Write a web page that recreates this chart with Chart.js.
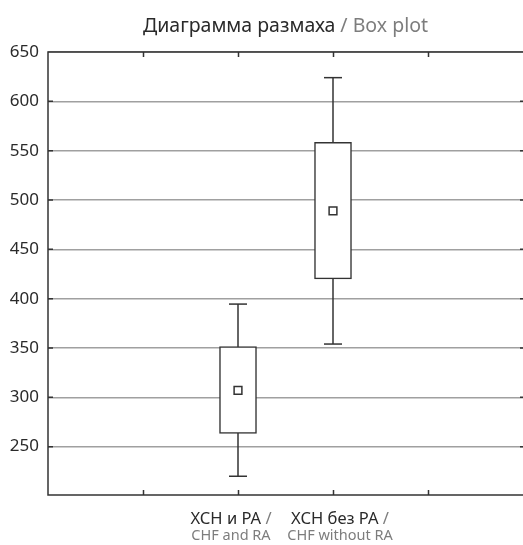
<!DOCTYPE html>
<html>
<head>
  <meta charset="utf-8">
  <title>Box plot</title>
  <script src="https://cdn.jsdelivr.net/npm/chart.js@4"></script>
  <style>
    body { margin: 0; background: #fff; }
  </style>
</head>
<body>
  <canvas id="chart" width="523" height="545"></canvas>

  <script>
    // groups and where they sit on the 0..5 x axis
    const groupsRu = ['ХСН и РА', 'ХСН без РА'];
    const groupsEn = ['CHF and RA', 'CHF without RA'];
    const groupPos = [2, 3];

    // box plot values
    const minVals = [220, 354];
    const q1Vals = [263.5, 420];
    const meanVals = [307, 489];
    const q3Vals = [351.5, 558.5];
    const maxVals = [394.5, 624];

    const yTicks = [250, 300, 350, 400, 450, 500, 550, 600, 650];

    const dark = '#333333';
    const grey = '#7d7d7d';
    const font = '"Noto Sans", sans-serif';

    const whiskers = groupPos.map((x, i) => ({
      type: 'line',
      data: [{ x: x, y: minVals[i] }, { x: x, y: maxVals[i] }],
      borderColor: dark,
      borderWidth: 1.5,
      pointRadius: 0,
      fill: false,
      order: 4
    }));

    const frame = {
      id: 'frame',
      afterDraw(chart) {
        const c = chart.ctx;
        const a = chart.chartArea;
        const xs = chart.scales.x;
        const ys = chart.scales.y;
        c.save();
        c.strokeStyle = dark;
        c.lineWidth = 1.5;
        // frame: left, top, bottom (right side runs off the canvas)
        c.beginPath();
        c.moveTo(a.right + 2, a.top); c.lineTo(a.left, a.top);
        c.lineTo(a.left, a.bottom); c.lineTo(a.right + 2, a.bottom);
        c.stroke();
        // inward ticks
        c.beginPath();
        for (let v = 1; v < 5; v++) {
          const px = Math.round(xs.getPixelForValue(v)) + 0.5;
          c.moveTo(px, a.top); c.lineTo(px, a.top + 5);
          c.moveTo(px, a.bottom); c.lineTo(px, a.bottom - 5);
        }
        yTicks.forEach(v => {
          if (v >= ys.max) return;
          const py = ys.getPixelForValue(v);
          c.moveTo(a.left, py); c.lineTo(a.left + 5, py);
          c.moveTo(a.right, py); c.lineTo(a.right - 3, py);
        });
        c.stroke();

        // title
        c.textBaseline = 'alphabetic';
        c.font = '19.5px ' + font;
        const t1 = 'Диаграмма размаха ';
        const t2 = '/ Box plot';
        const w1 = c.measureText(t1).width;
        const w2 = c.measureText(t2).width;
        let tx = (a.left + a.right) / 2 - (w1 + w2) / 2;
        c.textAlign = 'left';
        c.fillStyle = '#2a2a2a';
        c.fillText(t1, tx, 32);
        c.fillStyle = grey;
        c.fillText(t2, tx + w1, 32);

        // x labels
        const shift = [-7, 7];
        groupPos.forEach((v, i) => {
          const cx = xs.getPixelForValue(v) + shift[i];
          c.font = '16.5px ' + font;
          const s1 = groupsRu[i] + ' ';
          const s2 = '/';
          const a1 = c.measureText(s1).width;
          const a2 = c.measureText(s2).width;
          const lx = cx - (a1 + a2) / 2;
          c.fillStyle = '#2a2a2a';
          c.fillText(s1, lx, 524);
          c.fillStyle = grey;
          c.fillText(s2, lx + a1, 524);
          c.font = '14.5px ' + font;
          c.textAlign = 'center';
          c.fillText(groupsEn[i], cx, 540);
          c.textAlign = 'left';
        });
        c.restore();
      }
    };

    new Chart(document.getElementById('chart'), {
      type: 'bar',
      data: {
        datasets: [
          {
            type: 'bar',
            data: groupPos.map((x, i) => ({ x: x, y: [q1Vals[i], q3Vals[i]] })),
            backgroundColor: '#ffffff',
            borderColor: dark,
            borderWidth: 1.5,
            borderSkipped: false,
            barThickness: 37,
            order: 3
          },
          ...whiskers,
          {
            type: 'line',
            showLine: false,
            data: groupPos.flatMap((x, i) => [{ x: x, y: minVals[i] }, { x: x, y: maxVals[i] }]),
            pointStyle: 'line',
            pointRadius: 9,
            pointBorderColor: dark,
            pointBorderWidth: 1.5,
            order: 2
          },
          {
            type: 'line',
            showLine: false,
            data: groupPos.map((x, i) => ({ x: x, y: meanVals[i] })),
            pointStyle: 'rect',
            pointRadius: 5.5,
            pointBackgroundColor: '#ffffff',
            pointBorderColor: dark,
            pointBorderWidth: 1.5,
            order: 1
          }
        ]
      },
      options: {
        responsive: false,
        animation: false,
        layout: { autoPadding: false, padding: { top: 52, left: 0, right: 0, bottom: 0 } },
        plugins: { legend: { display: false }, tooltip: { enabled: false } },
        scales: {
          x: {
            type: 'linear',
            min: 0,
            max: 5,
            offset: false,
            grid: { display: false },
            border: { display: false },
            ticks: { display: false, stepSize: 1 },
            afterFit(s) { s.height = 50; s.paddingLeft = 0; s.paddingRight = 0; }
          },
          y: {
            min: 201,
            max: 650,
            beginAtZero: false,
            grid: { color: '#a0a0a0', lineWidth: 1.5, drawTicks: false },
            border: { display: false },
            ticks: {
              stepSize: 50,
              padding: 9,
              color: '#2a2a2a',
              font: { family: font, size: 17 }
            },
            afterBuildTicks(s) { s.ticks = yTicks.map(v => ({ value: v })); },
            afterFit(s) { s.width = 48; s.paddingTop = 0; s.paddingBottom = 0; }
          }
        }
      },
      plugins: [frame]
    });
  </script>
</body>
</html>
